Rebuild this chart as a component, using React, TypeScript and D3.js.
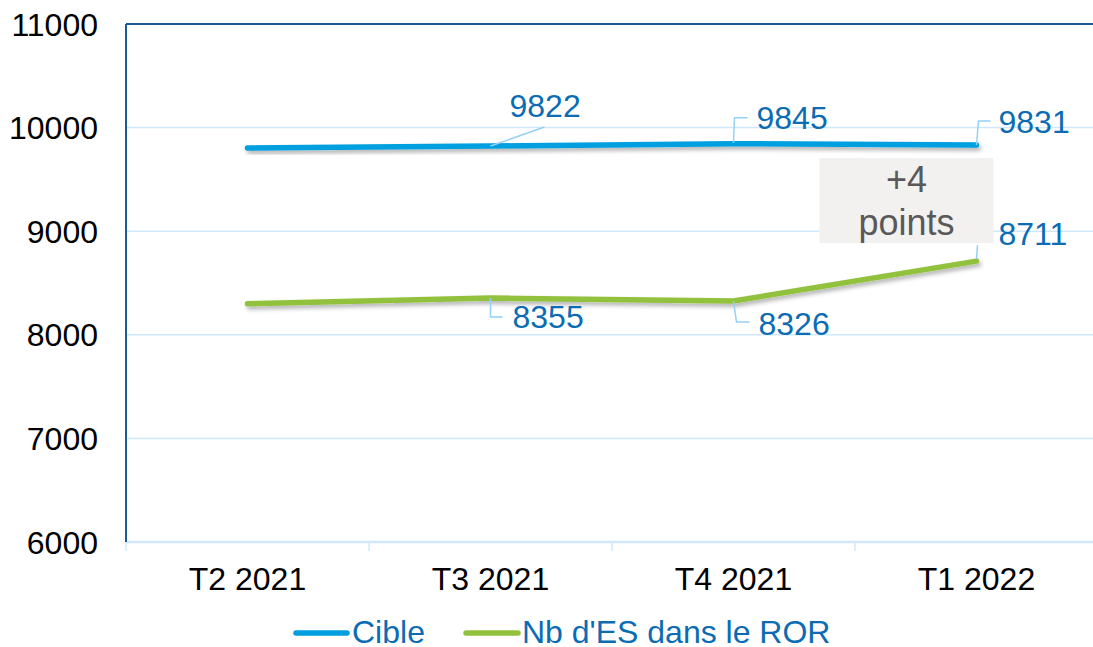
import React from "react";
import * as d3 from "d3";

const categories = ["T2 2021", "T3 2021", "T4 2021", "T1 2022"];
const cible = [9803, 9822, 9845, 9831];
const nbES = [8300, 8355, 8326, 8711];
const cibleLabels = [null, "9822", "9845", "9831"];
const nbESLabels = [null, "8355", "8326", "8711"];
const yTicks = [6000, 7000, 8000, 9000, 10000, 11000];
const seriesNames = ["Cible", "Nb d'ES dans le ROR"];
const annotation = ["+4", "points"];

const W = 1093;
const H = 647;
const M = { left: 126, right: 1098, top: 24, bottom: 542 };
const FONT = "'Liberation Sans', Arial, sans-serif";
const FS = 32;
const BLUE = "#00a0e0";
const GREEN = "#92c13e";
const LABEL = "#0b6cb3";
const LEADER = "#96d0f5";
const GRID = "#cfe8fb";
const AXIS = "#1a5a96";

type Lead = { path: (x: number, y: number) => string; tx: number; ty: number };
const cibleLead: (Lead | null)[] = [
  null,
  { path: (x, y) => `M${x},${y}L${x + 54},${y - 19}`, tx: 19, ty: -29 },
  { path: (x, y) => `M${x},${y - 1}L${x + 1},${y - 26}L${x + 14},${y - 26}`, tx: 23, ty: -15 },
  { path: (x, y) => `M${x},${y}L${x + 2},${y - 24}L${x + 14},${y - 24}`, tx: 22, ty: -12 },
];
const nbLead: (Lead | null)[] = [
  null,
  { path: (x, y) => `M${x},${y}L${x},${y + 19}L${x + 12},${y + 19}`, tx: 22, ty: 30 },
  { path: (x, y) => `M${x},${y}L${x + 3},${y + 21}L${x + 16},${y + 21}`, tx: 25, ty: 34 },
  { path: (x, y) => `M${x},${y - 2}L${x + 1},${y - 16}`, tx: 22, ty: -16 },
];

export default function App() {
  const x = d3.scaleBand<string>().domain(categories).range([M.left, M.right]).padding(0);
  const y = d3.scaleLinear().domain([6000, 11000]).range([M.bottom, M.top]);
  const cx = (c: string) => (x(c) as number) + x.bandwidth() / 2;
  const line = d3
    .line<number>()
    .x((_, i) => cx(categories[i]))
    .y((d) => y(d));

  const boundaries = categories.map((c) => x(c) as number).concat([M.right]);
  const annX = cx(categories[3]) - 70;

  return (
    <svg
      width={W}
      height={H}
      style={{ position: "absolute", left: 0, top: 0, background: "#fff" }}
      fontFamily={FONT}
    >
      <defs>
        <filter id="sh" x="-10%" y="-50%" width="120%" height="300%">
          <feDropShadow dx="2" dy="3" stdDeviation="2" floodColor="#000" floodOpacity="0.3" />
        </filter>
      </defs>
      {yTicks.slice(1, -1).map((t) => (
        <line key={t} x1={M.left} x2={M.right} y1={y(t)} y2={y(t)} stroke={GRID} strokeWidth={1.5} />
      ))}
      <line x1={M.left} x2={M.right} y1={M.bottom} y2={M.bottom} stroke={GRID} strokeWidth={2.5} />
      {boundaries.map((b, i) => (
        <line key={i} x1={b} x2={b} y1={M.bottom} y2={M.bottom + 9} stroke={GRID} strokeWidth={1.5} />
      ))}
      <line x1={M.left} x2={M.right} y1={M.top} y2={M.top} stroke={AXIS} strokeWidth={2} />
      <line x1={M.left} x2={M.left} y1={M.top} y2={M.bottom} stroke={AXIS} strokeWidth={2} />
      {yTicks.map((t) => (
        <text key={t} x={98} y={y(t)} dy="0.36em" textAnchor="end" fontSize={FS} fill="#000">
          {t}
        </text>
      ))}
      {categories.map((c) => (
        <text key={c} x={cx(c)} y={590} textAnchor="middle" fontSize={FS} fill="#000">
          {c}
        </text>
      ))}
      <path d={line(cible) as string} fill="none" stroke={BLUE} strokeWidth={5.5} strokeLinecap="round" strokeLinejoin="round" filter="url(#sh)" />
      <path d={line(nbES) as string} fill="none" stroke={GREEN} strokeWidth={5.5} strokeLinecap="round" strokeLinejoin="round" filter="url(#sh)" />

      <rect x={annX - 87} y={158} width={174} height={85} fill="#f2f1ef" />
      <text x={annX} y={192} textAnchor="middle" fontSize={36} fill="#595959">{annotation[0]}</text>
      <text x={annX} y={235} textAnchor="middle" fontSize={36} fill="#595959">{annotation[1]}</text>

      {cible.map((v, i) => {
        const L = cibleLead[i];
        const lab = cibleLabels[i];
        if (!L || !lab) return null;
        const px = cx(categories[i]);
        const py = y(v);
        return (
          <g key={"c" + i}>
            <path d={L.path(px, py)} fill="none" stroke={LEADER} strokeWidth={1.5} />
            <text x={px + L.tx} y={py + L.ty} fontSize={FS} fill={LABEL}>{lab}</text>
          </g>
        );
      })}
      {nbES.map((v, i) => {
        const L = nbLead[i];
        const lab = nbESLabels[i];
        if (!L || !lab) return null;
        const px = cx(categories[i]);
        const py = y(v);
        return (
          <g key={"n" + i}>
            <path d={L.path(px, py)} fill="none" stroke={LEADER} strokeWidth={1.5} />
            <text x={px + L.tx} y={py + L.ty} fontSize={FS} fill={LABEL}>{lab}</text>
          </g>
        );
      })}

      <line x1={296} x2={347} y1={633} y2={633} stroke={BLUE} strokeWidth={5.5} strokeLinecap="round" />
      <text x={352} y={643} fontSize={FS} fill={LABEL}>{seriesNames[0]}</text>
      <line x1={466} x2={518} y1={633} y2={633} stroke={GREEN} strokeWidth={5.5} strokeLinecap="round" />
      <text x={522} y={643} fontSize={FS} fill={LABEL}>{seriesNames[1]}</text>
    </svg>
  );
}
